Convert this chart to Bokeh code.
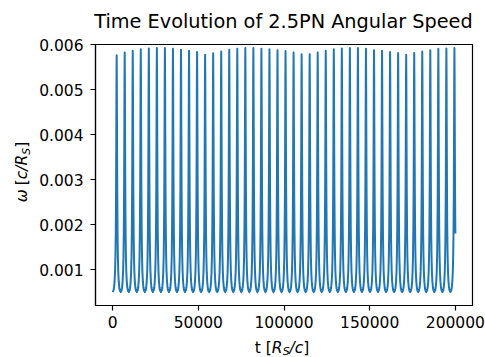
import math
from bokeh.plotting import figure
from bokeh.layouts import row, column
from bokeh.models import Range1d, FixedTicker, PrintfTickFormatter, Label, ColumnDataSource
from bokeh.embed import file_html
from bokeh.resources import INLINE

# ---------------- data ----------------
title_text = "Time Evolution of 2.5PN Angular Speed"
x_ticks = [0, 50000, 100000, 150000, 200000]
y_ticks = [0.001, 0.002, 0.003, 0.004, 0.005, 0.006]

t_end = 200000          # last time sample
first_peak_t = 2346     # time of first periapsis passage
orbit_period = 4693     # spacing between the spikes
trough_omega = 0.000497 # angular speed at apoapsis
end_omega = 0.00180     # last sample of the curve

# height of each of the 43 spikes
peak_omega = [
    0.00577, 0.00583, 0.00587, 0.00590, 0.00592, 0.00593, 0.00593, 0.00591,
    0.00589, 0.00587, 0.00584, 0.00578, 0.00581, 0.00585, 0.00589, 0.00591,
    0.00593, 0.00593, 0.00591, 0.00590, 0.00588, 0.00586, 0.00583, 0.00579,
    0.00579, 0.00583, 0.00587, 0.00590, 0.00592, 0.00593, 0.00593, 0.00591,
    0.00588, 0.00587, 0.00584, 0.00582, 0.00578, 0.00582, 0.00585, 0.00588,
    0.00591, 0.00592, 0.00593,
]

# shape of one orbit around a spike: offset from the spike (fraction of the
# orbit) and height as a fraction between trough and spike
cycle_offset = [0.0, 0.022, 0.046, 0.075, 0.110, 0.152, 0.202, 0.259, 0.323, 0.393, 0.5]
cycle_height = [1.0, 0.891, 0.653, 0.423, 0.256, 0.150, 0.084, 0.044, 0.020, 0.007, 0.0]

# ---------------- build the line from the values above ----------------
ts, ws = [0.0], [trough_omega]
for k, pk in enumerate(peak_omega):
    tp = first_peak_t + k * orbit_period
    for off, h in list(zip(cycle_offset, cycle_height))[::-1][1:]:
        ts.append(tp - off * orbit_period)
        ws.append(trough_omega + h * (pk - trough_omega))
    for off, h in list(zip(cycle_offset, cycle_height))[1:]:
        t = tp + off * orbit_period
        if t > t_end:
            break
        ts.append(t)
        ws.append(trough_omega + h * (pk - trough_omega))
ts.append(t_end)
ws.append(end_omega)
src = ColumnDataSource(data=dict(t=ts, w=ws))

FONT = "DejaVu Sans"
LBL = "15.5px"
SUB = "10.9px"
LEFT_W = 36     # width of the y-label strip
TOP_H = 35      # height of the title strip
BOT_H = 24      # height of the x-label strip

p = figure(width=485 - LEFT_W, height=357 - TOP_H - BOT_H,
           output_backend="svg", toolbar_location=None,
           x_range=Range1d(-10000, 210000), y_range=Range1d(0.000199, 0.0060067),
           min_border_left=94 - LEFT_W, min_border_right=13,
           min_border_top=44 - TOP_H, min_border_bottom=28,
           background_fill_color="white", border_fill_color="white",
           frame_align=False)
p.line("t", "w", source=src, line_color="#1f77b4", line_width=2.0, line_join="round")

p.xgrid.visible = False
p.ygrid.visible = False
p.outline_line_color = "black"
p.outline_line_width = 1.2

p.xaxis.ticker = FixedTicker(ticks=x_ticks)
p.yaxis.ticker = FixedTicker(ticks=y_ticks)
p.xaxis.formatter = PrintfTickFormatter(format="%d")
p.yaxis.formatter = PrintfTickFormatter(format="%.3f")
for ax in (p.xaxis[0], p.yaxis[0]):
    ax.major_label_text_font = FONT
    ax.major_label_text_font_size = LBL
    ax.major_label_text_color = "black"
    ax.major_tick_out = 5
    ax.major_tick_in = 0
    ax.major_tick_line_width = 1.2
    ax.minor_tick_line_color = None
    ax.axis_line_color = "black"
    ax.axis_line_width = 1.2
p.yaxis.major_label_standoff = 7
p.xaxis.major_label_standoff = 5


def label_panel(w, h):
    f = figure(width=w, height=h, output_backend="svg", toolbar_location=None,
               x_range=Range1d(0, 1), y_range=Range1d(0, 1),
               min_border=0, min_border_left=0, min_border_right=0,
               min_border_top=0, min_border_bottom=0,
               background_fill_color="white", border_fill_color="white",
               frame_align=False)
    f.axis.visible = False
    f.grid.visible = False
    f.outline_line_color = None
    return f


def piece(f, text, x, y, size, style, angle=0.0, align="left"):
    f.add_layout(Label(x=x, y=y, x_units="screen", y_units="screen", text=text,
                       text_font=FONT, text_font_size=size, text_font_style=style,
                       text_color="black", text_align=align, text_baseline="alphabetic",
                       angle=angle))


# title
ft = label_panel(485 - LEFT_W, TOP_H)
piece(ft, title_text, 283 - LEFT_W, 13.6, "19.3px", "normal", align="center")

# x label: t [R_S/c]
fx = label_panel(485 - LEFT_W, BOT_H)
bx, by = 254.3 - LEFT_W, 9.7
piece(fx, "t [", bx, by, LBL, "normal")
piece(fx, "R", bx + 17.05, by, LBL, "italic")
piece(fx, "S", bx + 27.85, 5.6, SUB, "italic")
piece(fx, "/c", bx + 34.75, by, LBL, "italic")
piece(fx, "]", bx + 48.45, by, LBL, "normal")

# y label: ω [c/R_S]
fy = label_panel(LEFT_W, 357)
lx, ly = 21.3, 155.25
a = math.pi / 2
piece(fy, "ω", lx, ly, LBL, "italic", a)
piece(fy, "[", lx, ly + 17.0, LBL, "normal", a)
piece(fy, "c/R", lx, ly + 23.1, LBL, "italic", a)
piece(fy, "S", 25.9, ly + 47.6, SUB, "italic", a)
piece(fy, "]", lx, ly + 54.5, LBL, "normal", a)

layout = row(fy, column(ft, p, fx, spacing=0), spacing=0)
open("out.html", "w").write(file_html(layout, INLINE))
